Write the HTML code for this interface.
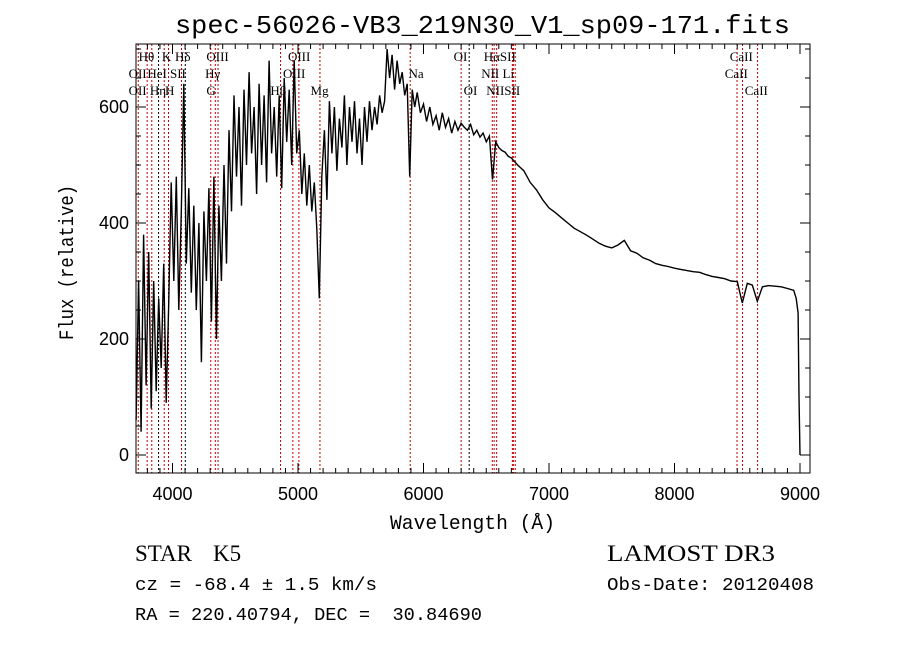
<!DOCTYPE html>
<html><head><meta charset="utf-8"><style>
html,body{margin:0;padding:0;background:#fff;}
svg{display:block;}
</style></head><body>
<svg id="chart" width="900" height="649" viewBox="0 0 900 649" xmlns="http://www.w3.org/2000/svg">
<rect x="0" y="0" width="900" height="649" fill="#fff"/>
<text x="175" y="33" textLength="615" lengthAdjust="spacingAndGlyphs" font-family="Liberation Mono, monospace" font-size="26">spec-56026-VB3_219N30_V1_sp09-171.fits</text>
<g id="lines"></g>
<g id="labels" font-family="Liberation Serif, serif" font-size="13"></g>
<path id="spec" fill="none" stroke="#000" stroke-width="1.4"/>
<rect x="136" y="44" width="674" height="429" fill="none" stroke="#000" stroke-width="1"/>
<g id="ticks" stroke="#000" stroke-width="1"></g>
<g id="tlabels" font-family="Liberation Sans, sans-serif" font-size="18"></g>
<text x="390" y="529" textLength="165" lengthAdjust="spacingAndGlyphs" font-family="Liberation Mono, monospace" font-size="20">Wavelength (Å)</text>
<text transform="translate(73,340) rotate(-90)" textLength="155" lengthAdjust="spacingAndGlyphs" font-family="Liberation Mono, monospace" font-size="20">Flux (relative)</text>
<text x="135" y="561" font-family="Liberation Serif, serif" font-size="23" xml:space="preserve">STAR</text>
<text x="213" y="561" font-family="Liberation Serif, serif" font-size="23">K5</text>
<text x="607" y="561" textLength="168" lengthAdjust="spacingAndGlyphs" font-family="Liberation Serif, serif" font-size="23">LAMOST DR3</text>
<text x="135" y="590" textLength="242" lengthAdjust="spacingAndGlyphs" font-family="Liberation Mono, monospace" font-size="18">cz = -68.4 ± 1.5 km/s</text>
<text x="607" y="590" textLength="207" lengthAdjust="spacingAndGlyphs" font-family="Liberation Mono, monospace" font-size="18">Obs-Date: 20120408</text>
<text x="135" y="620" textLength="347" lengthAdjust="spacingAndGlyphs" font-family="Liberation Mono, monospace" font-size="18" xml:space="preserve">RA = 220.40794, DEC =  30.84690</text>
</svg>
<script>
const wave = [3710,3730,3750,3770,3790,3810,3830,3850,3870,3890,3910,3930,3950,3970,3990,4010,4030,4050,4070,4090,4110,4130,4150,4170,4190,4210,4230,4250,4270,4290,4310,4330,4350,4370,4390,4410,4430,4450,4470,4490,4510,4530,4550,4570,4590,4610,4630,4650,4670,4690,4710,4730,4750,4770,4790,4810,4830,4850,4870,4890,4910,4930,4950,4970,4990,5010,5030,5050,5070,5090,5110,5130,5150,5170,5190,5210,5230,5250,5270,5290,5310,5330,5350,5370,5390,5410,5430,5450,5470,5490,5510,5530,5550,5570,5590,5610,5630,5650,5670,5690,5710,5730,5750,5770,5790,5810,5830,5850,5870,5890,5910,5930,5950,5975,6000,6025,6050,6075,6100,6125,6150,6175,6200,6225,6250,6275,6300,6325,6350,6375,6400,6425,6450,6475,6500,6525,6550,6575,6600,6625,6650,6675,6700,6750,6800,6850,6900,6950,7000,7050,7100,7150,7200,7250,7300,7350,7400,7450,7500,7550,7600,7650,7700,7750,7800,7850,7900,7950,8000,8050,8100,8150,8200,8250,8300,8350,8400,8450,8500,8540,8580,8620,8660,8700,8750,8800,8850,8900,8950,8970,8985,8992,9000];
const flux = [60,300,40,380,120,350,80,300,110,270,150,330,90,260,470,300,480,250,420,640,330,460,280,430,250,400,160,420,300,460,230,480,200,430,300,500,330,560,420,620,480,600,430,630,500,660,520,600,450,640,500,620,470,680,520,600,480,620,460,650,540,630,500,680,520,560,450,520,430,500,420,470,390,270,480,560,440,610,520,600,490,580,530,620,500,600,540,610,520,580,500,600,540,610,560,600,570,620,590,610,700,650,690,630,680,640,660,620,640,480,630,600,625,590,605,575,600,570,585,560,590,565,580,555,575,560,572,565,560,570,552,560,548,555,540,550,475,540,530,525,522,515,512,500,490,470,457,440,426,418,409,400,391,385,379,372,365,360,357,362,370,352,348,340,336,330,327,325,322,320,318,316,315,311,308,306,304,300,299,262,296,293,265,290,292,291,290,287,284,270,245,100,0];
const lineWaves = [3727,3798,3835,3889,3934,3968,4072,4102,4305,4341,4363,4861,4959,5007,5175,5894,6300,6364,6548,6563,6583,6708,6716,6731,8498,8542,8662];
const lineBlack = [4102,6364,3889];
const labelText = ["Hθ","K","Hδ","OIII","OIII","OII","HeI","SII","Hγ","OIII","OII","Hη","H","G","Hβ","Mg","OI","HαSII","CaII","Na","NII Li","CaII","OI","NIISII","CaII"];
const labelWave = [3730,3915,4020,4270,4920,3650,3800,3980,4260,4880,3650,3820,3940,4270,4780,5100,6240,6480,8440,5880,6460,8400,6320,6500,8560];
const labelRow = [0,0,0,0,0,1,1,1,1,1,2,2,2,2,2,2,0,0,0,1,1,1,2,2,2];
const xTicks = [4000,5000,6000,7000,8000,9000];
const yTicks = [0,200,400,600];

const X0=136,X1=810,Y0=44,Y1=473;
const xs = w => 172.5 + (w-4000)*0.1255;
const ys = f => 455 - f*0.58;
const NS='http://www.w3.org/2000/svg';
function mk(tag, attrs, parent){const e=document.createElementNS(NS,tag);for(const k in attrs)e.setAttribute(k,attrs[k]);parent.appendChild(e);return e;}

let d='';
for(let i=0;i<wave.length;i++){d+=(i?'L':'M')+xs(wave[i]).toFixed(1)+' '+ys(flux[i]).toFixed(1);}
document.getElementById('spec').setAttribute('d',d);

const lg=document.getElementById('lines');
lineWaves.forEach(w=>{const x=xs(w);
 const l=mk('line',{x1:x,x2:x,y1:Y0,y2:Y1,stroke:lineBlack.includes(w)?'#000':'#c00000','stroke-width':1,'stroke-dasharray':'2,2'},lg);
 
 
});
const lb=document.getElementById('labels');
const rowY=[61,78,95];
labelText.forEach((t,i)=>{const e=mk('text',{x:xs(labelWave[i]),y:rowY[labelRow[i]]},lb);e.textContent=t;
 
 
});

const tg=document.getElementById('ticks'), tl=document.getElementById('tlabels');
for(let w=3800;w<=9000;w+=100){const x=xs(w);const major=w%1000===0;const L=major?10:5;
 mk('line',{x1:x,x2:x,y1:Y1,y2:Y1-L},tg);mk('line',{x1:x,x2:x,y1:Y0,y2:Y0+L},tg);}
for(let f=0;f<=700;f+=50){const y=ys(f);const L=f%200===0?10:5;
 mk('line',{x1:X0,x2:X0+L,y1:y,y2:y},tg);mk('line',{x1:X1,x2:X1-L,y1:y,y2:y},tg);}
xTicks.forEach(w=>{const e=mk('text',{x:xs(w),y:500,'text-anchor':'middle'},tl);e.textContent=w;
 
 
});
yTicks.forEach(f=>{const e=mk('text',{x:129,y:ys(f)+6,'text-anchor':'end'},tl);e.textContent=f;
 
 
});
</script>
</body></html>
